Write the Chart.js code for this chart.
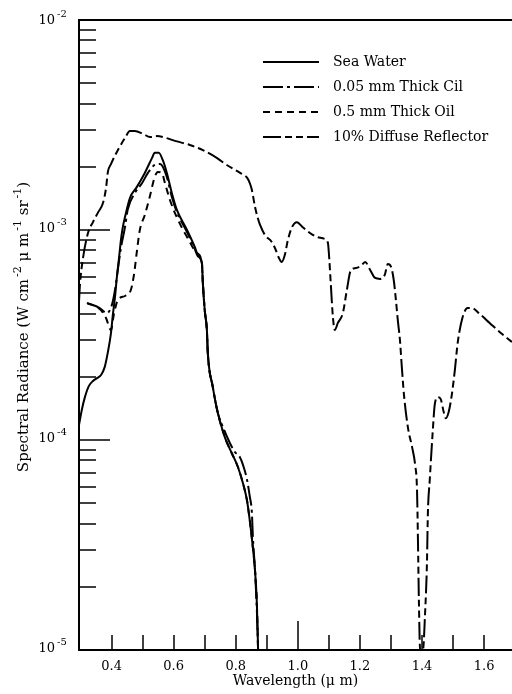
<!DOCTYPE html>
<html>
<head>
<meta charset="utf-8">
<script src="https://cdn.jsdelivr.net/npm/chart.js@4.4.1/dist/chart.umd.min.js"></script>
<style>
  html, body { margin: 0; padding: 0; background: #fff; }
  canvas { display: block; }
</style>
</head>
<body>
<canvas id="c" width="512" height="694"></canvas>
<script>
// ---------------- data ----------------
const seriesLabels = ['Sea Water', '0.05 mm Thick Cil', '0.5 mm Thick Oil', '10% Diffuse Reflector'];

const seaWaterX = [0.295,0.304,0.314,0.327,0.340,0.353,0.366,0.378,0.388,0.398,0.404,0.411,0.417,0.424,0.430,0.436,0.443,0.459,0.481,0.507,0.530,0.539,0.552,0.565,0.578,0.594,0.610,0.643,0.668,0.678,0.691,0.694,0.700,0.707,0.710,0.726,0.742,0.765,0.787,0.807,0.823,0.836,0.845,0.855,0.862,0.868,0.872];
const seaWaterY = [1.18e-4,1.39e-4,1.60e-4,1.81e-4,1.91e-4,1.97e-4,2.04e-4,2.23e-4,2.62e-4,3.23e-4,3.94e-4,4.80e-4,5.97e-4,7.36e-4,8.96e-4,1.03e-3,1.15e-3,1.42e-3,1.60e-3,1.87e-3,2.20e-3,2.33e-3,2.33e-3,2.15e-3,1.87e-3,1.50e-3,1.25e-3,1.00e-3,8.30e-4,7.60e-4,6.97e-4,5.60e-4,4.16e-4,3.34e-4,2.60e-4,1.79e-4,1.35e-4,1.03e-4,8.67e-5,7.44e-5,6.24e-5,5.18e-5,4.16e-5,3.09e-5,2.40e-5,1.67e-5,1.0e-5];

const thinOilX = [0.321,0.362,0.385,0.401,0.411,0.420,0.430,0.443,0.452,0.475,0.498,0.517,0.539,0.556,0.565,0.578,0.594,0.610,0.643,0.668,0.678,0.691,0.694,0.700,0.707,0.710,0.726,0.742,0.759,0.781,0.797,0.813,0.826,0.836,0.845,0.852,0.855,0.862,0.868,0.872];
const thinOilY = [4.49e-4,4.25e-4,4.02e-4,4.40e-4,5.18e-4,6.45e-4,8.21e-4,1.03e-3,1.25e-3,1.50e-3,1.67e-3,1.87e-3,2.04e-3,2.06e-3,2.00e-3,1.79e-3,1.44e-3,1.22e-3,9.78e-4,8.12e-4,7.50e-4,6.90e-4,5.60e-4,4.16e-4,3.34e-4,2.60e-4,1.79e-4,1.35e-4,1.15e-4,9.68e-5,8.77e-5,8.30e-5,7.40e-5,6.50e-5,5.40e-5,4.50e-5,3.50e-5,2.40e-5,1.55e-5,1.0e-5];

const thickOilX = [0.321,0.362,0.382,0.398,0.407,0.420,0.443,0.462,0.472,0.482,0.491,0.507,0.523,0.539,0.549,0.562,0.572,0.588,0.610,0.643,0.675,0.691,0.694,0.700,0.707,0.710,0.726,0.742,0.765,0.787,0.807,0.823,0.836,0.845,0.855,0.862,0.868,0.872];
const thickOilY = [4.49e-4,4.20e-4,3.81e-4,3.34e-4,3.94e-4,4.64e-4,4.85e-4,5.18e-4,6.11e-4,8.03e-4,1.00e-3,1.18e-3,1.44e-3,1.79e-3,1.89e-3,1.87e-3,1.67e-3,1.39e-3,1.15e-3,9.27e-4,7.77e-4,7.00e-4,5.60e-4,4.16e-4,3.34e-4,2.60e-4,1.79e-4,1.35e-4,1.03e-4,8.67e-5,7.44e-5,6.24e-5,5.18e-5,4.16e-5,3.09e-5,2.40e-5,1.67e-5,1.0e-5];

const reflectorX = [0.295,0.298,0.308,0.324,0.340,0.356,0.372,0.382,0.388,0.398,
  0.420,0.443,0.459,0.475,0.501,0.524,0.546,0.566,0.597,0.620,
  0.652,0.694,0.740,0.771,0.814,0.837,0.846,0.852,0.862,0.871,
  0.878,0.894,0.916,0.929,0.939,0.948,0.958,0.968,0.981,0.997,
  1.016,1.039,1.061,1.087,1.097,1.100,1.106,1.113,1.119,1.129,
  1.145,1.158,1.171,1.187,1.203,1.217,1.233,1.249,1.265,1.280,
  1.290,1.300,1.309,1.316,1.322,1.329,1.335,1.342,1.355,1.368,
  1.378,1.384,1.387,1.390,1.394,1.403,1.410,1.416,1.419,1.425,
  1.435,1.441,1.451,1.460,1.470,1.477,1.486,1.496,1.506,1.515,
  1.531,1.547,1.560,1.586,1.618,1.650,1.690];
const reflectorY = [4.54e-4,5.47e-4,7.36e-4,9.68e-4,1.09e-3,1.21e-3,1.34e-3,1.58e-3,1.89e-3,2.06e-3,
  2.40e-3,2.74e-3,2.96e-3,2.96e-3,2.87e-3,2.77e-3,2.80e-3,2.77e-3,2.68e-3,2.62e-3,
  2.54e-3,2.40e-3,2.20e-3,2.04e-3,1.87e-3,1.77e-3,1.66e-3,1.55e-3,1.29e-3,1.14e-3,
  1.06e-3,9.47e-4,8.77e-4,8.03e-4,7.36e-4,7.04e-4,7.60e-4,8.96e-4,1.03e-3,1.09e-3,
  1.03e-3,9.68e-4,9.27e-4,9.06e-4,8.67e-4,7.77e-4,5.60e-4,3.85e-4,3.34e-4,3.61e-4,
  4.02e-4,5.18e-4,6.45e-4,6.59e-4,6.74e-4,7.04e-4,6.45e-4,5.91e-4,5.85e-4,6.11e-4,
  6.89e-4,6.70e-4,5.78e-4,4.64e-4,3.73e-4,2.99e-4,2.23e-4,1.64e-4,1.14e-4,9.27e-5,
  7.60e-5,5.78e-5,3.34e-5,1.73e-5,1.0e-5,1.0e-5,1.50e-5,2.60e-5,4.49e-5,6.45e-5,
  1.12e-4,1.47e-4,1.60e-4,1.57e-4,1.36e-4,1.27e-4,1.36e-4,1.64e-4,2.16e-4,2.90e-4,
  3.85e-4,4.25e-4,4.25e-4,3.98e-4,3.61e-4,3.27e-4,2.93e-4];

const xTickValues = [0.4, 0.6, 0.8, 1.0, 1.2, 1.4, 1.6];
const xTickLabels = ['0.4', '0.6', '0.8', '1.0', '1.2', '1.4', '1.6'];
const yTickValues = [1e-5, 1e-4, 1e-3, 1e-2];
const yTickBases = ['10', '10', '10', '10'];
const yTickExponents = ['-5', '-4', '-3', '-2'];
const xAxisTitle = 'Wavelength (\u03BC m)';
// y-axis title as [text, isSuperscript] runs
const yAxisTitleRuns = [['Spectral Radiance (W cm', false], ['-2', true], [' \u03BC m', false], ['-1', true], [' sr', false], ['-1', true], [')', false]];

// ---------------- styling ----------------
const FONT = '"DejaVu Serif", "Liberation Serif", serif';
Chart.defaults.font.family = FONT;
Chart.defaults.color = '#000';

const toPts = (xs, ys) => xs.map((x, i) => ({ x: x, y: ys[i] }));
const lineStyle = (label, xs, ys, dash) => ({
  label: label,
  data: toPts(xs, ys),
  borderColor: '#000',
  backgroundColor: 'transparent',
  borderWidth: 2,
  borderDash: dash,
  pointRadius: 0,
  fill: false,
  cubicInterpolationMode: 'monotone'
});

const datasets = [
  lineStyle(seriesLabels[0], seaWaterX, seaWaterY, []),
  lineStyle(seriesLabels[1], thinOilX, thinOilY, [20, 4, 3, 4]),
  lineStyle(seriesLabels[2], thickOilX, thickOilY, [7, 5]),
  lineStyle(seriesLabels[3], reflectorX, reflectorY, [18, 4, 7, 4, 7, 4])
];

// inward tick marks, tick labels with exponents, y title, top frame line and in-plot legend
const decorPlugin = {
  id: 'decor',
  afterDraw(chart) {
    const { ctx, chartArea: a } = chart;
    const xs = chart.scales.x, ys = chart.scales.y;
    ctx.save();
    ctx.strokeStyle = '#000';
    ctx.fillStyle = '#000';
    ctx.lineWidth = 1.5;
    ctx.setLineDash([]);
    // y ticks (decades long, 2..9 short)
    for (let e = -5; e <= -3; e++) {
      for (let m = 1; m <= 9; m++) {
        const v = m * Math.pow(10, e);
        const py = Math.round(ys.getPixelForValue(v));
        const len = m === 1 ? 31 : 17;
        ctx.beginPath();
        ctx.moveTo(a.left, py);
        ctx.lineTo(a.left + len, py);
        ctx.stroke();
      }
    }
    // x ticks every 0.1
    for (let i = 4; i <= 16; i++) {
      const px = Math.round(xs.getPixelForValue(i / 10));
      const len = i === 10 ? 29 : 15;
      ctx.beginPath();
      ctx.moveTo(px, a.bottom);
      ctx.lineTo(px, a.bottom - len);
      ctx.stroke();
    }
    // top frame line
    ctx.lineWidth = 2;
    ctx.beginPath();
    ctx.moveTo(a.left, a.top);
    ctx.lineTo(a.right, a.top);
    ctx.stroke();

    // y tick labels: 10 with raised exponent
    ctx.textBaseline = 'middle';
    yTickValues.forEach((v, i) => {
      const py = ys.getPixelForValue(v);
      const dy = i === yTickValues.length - 1 ? 2 : 0;
      ctx.font = '13px ' + FONT;
      ctx.textAlign = 'right';
      ctx.fillText(yTickBases[i], a.left - 24, py - 1 + dy);
      ctx.font = '10px ' + FONT;
      ctx.textAlign = 'left';
      ctx.fillText(yTickExponents[i], a.left - 22, py - 8 + dy);
    });

    // y axis title (rotated, with superscripts)
    ctx.save();
    ctx.translate(28, (a.top + a.bottom) / 2 - 8);
    ctx.rotate(-Math.PI / 2);
    ctx.textBaseline = 'alphabetic';
    ctx.textAlign = 'left';
    const baseFont = '15px ' + FONT, supFont = '11px ' + FONT;
    let total = 0;
    yAxisTitleRuns.forEach(([t, sup]) => { ctx.font = sup ? supFont : baseFont; total += ctx.measureText(t).width + (sup ? 2 : 0); });
    let cx = -total / 2;
    yAxisTitleRuns.forEach(([t, sup]) => {
      ctx.font = sup ? supFont : baseFont;
      if (sup) cx += 2;
      ctx.fillText(t, cx, sup ? -7 : 0);
      cx += ctx.measureText(t).width;
    });
    ctx.restore();

    // legend
    const x0 = a.left + 184, x1 = a.left + 240, tx = a.left + 254;
    ctx.font = '14px ' + FONT;
    ctx.textBaseline = 'middle';
    ctx.textAlign = 'left';
    chart.data.datasets.forEach((ds, i) => {
      const yy = a.top + 42 + i * 25;
      ctx.lineWidth = 2;
      ctx.setLineDash(ds.borderDash || []);
      ctx.beginPath();
      ctx.moveTo(x0, yy);
      ctx.lineTo(x1, yy);
      ctx.stroke();
      ctx.setLineDash([]);
      ctx.fillText(ds.label, tx, yy);
    });
    ctx.restore();
  }
};

new Chart(document.getElementById('c'), {
  type: 'line',
  data: { datasets: datasets },
  plugins: [decorPlugin],
  options: {
    responsive: false,
    devicePixelRatio: 1,
    animation: false,
    layout: { padding: { top: 20, right: 0, left: 0, bottom: 0 } },
    plugins: { legend: { display: false }, tooltip: { enabled: false } },
    scales: {
      x: {
        type: 'linear',
        min: 0.295,
        max: 1.69,
        afterBuildTicks: s => { s.ticks = xTickValues.map(v => ({ value: v })); },
        afterFit: s => { s.height = 44; },
        grid: { display: false, drawTicks: false },
        border: { display: true, color: '#000', width: 2 },
        ticks: {
          autoSkip: false, maxRotation: 0, padding: 9,
          font: { size: 13 },
          callback: (v) => xTickLabels[xTickValues.indexOf(Math.round(v * 10) / 10)] ?? ''
        },
        title: { display: true, text: xAxisTitle, font: { size: 14 }, padding: { top: 0, bottom: 4 } }
      },
      y: {
        type: 'logarithmic',
        min: 1e-5,
        max: 1e-2,
        afterBuildTicks: s => { s.ticks = yTickValues.map(v => ({ value: v })); },
        afterFit: s => { s.width = 79; },
        grid: { display: false, drawTicks: false },
        border: { display: true, color: '#000', width: 2 },
        ticks: { display: false },
        title: { display: false }
      }
    }
  }
});
</script>
</body>
</html>
